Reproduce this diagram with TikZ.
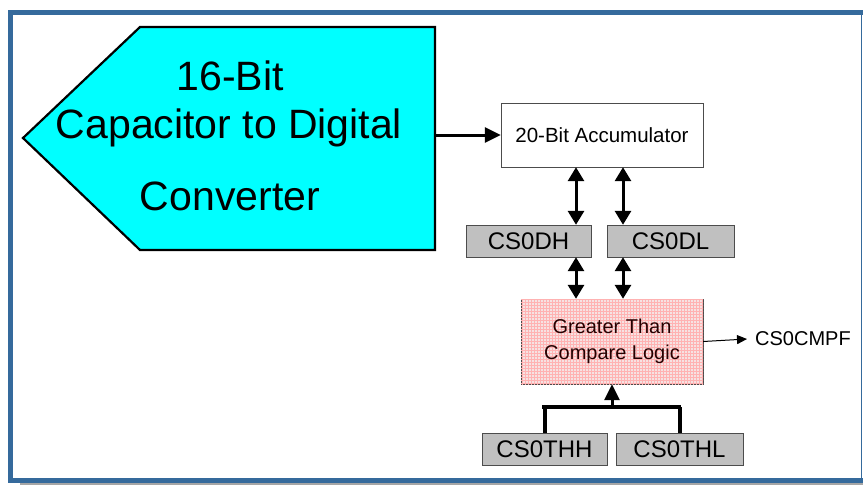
\documentclass[tikz,border=0pt]{standalone}
\usepackage{fontspec}
\setmainfont{Liberation Sans}
\usetikzlibrary{arrows.meta,patterns}

\definecolor{framblue}{HTML}{356A9C}
\definecolor{adccyan}{HTML}{00FFFF}
\definecolor{regray}{HTML}{C0C0C0}
\definecolor{logicpink}{HTML}{F6E2E2}

\begin{document}
\begin{tikzpicture}[x=1pt,y=-1pt,
	regbox/.style={draw=black!70, fill=regray, minimum height=32pt, inner sep=0pt, font=\fontsize{24}{28}\selectfont},
	dblarrow/.style={line width=3pt, {Triangle[length=14pt,width=16pt]}-{Triangle[length=14pt,width=16pt]}},
	busline/.style={line width=4pt}]
	\useasboundingbox (0,0) rectangle (863,485);

	% frame
	\draw[gray!70, line width=3pt] (20,483.5) -- (863,483.5);
	\draw[framblue, line width=5pt] (863,12) -- (10,12) -- (10,480) -- (863,480);
	\draw[framblue, line width=1pt] (861,12) -- (861,480);

	% converter
	\draw[fill=adccyan, line width=2.2pt] (140,27) -- (435,27) -- (435,250) -- (140,250) -- (23,138) -- cycle;
	\node[anchor=base, font=\fontsize{41}{48}\selectfont] (adc1) at (230,90) {16-Bit};
	\node[anchor=base, font=\fontsize{41}{48}\selectfont] (adc2) at (229,138) {Capacitor to Digital};
	\node[anchor=base, font=\fontsize{41}{48}\selectfont] (adc3) at (230,210) {Converter};
	\coordinate (adcout) at (435,135);

	% accumulator and data registers
	\node[draw=black!70, fill=white, minimum width=202pt, minimum height=64pt, inner sep=0pt, font=\fontsize{20.5}{24}\selectfont] (acc) at (602,135) {20-Bit Accumulator};
	\node[regbox, minimum width=125pt] (dh) at (528.5,241) {CS0DH};
	\node[regbox, minimum width=127pt] (dl) at (670.5,241) {CS0DL};

	% compare logic
	\node[draw=black!70, fill=logicpink, minimum width=182pt, minimum height=85pt, inner sep=0pt,
		postaction={pattern=grid, pattern color=red!30},
		align=center, text=black!85!red, font=\fontsize{20}{26}\selectfont] (cmp) at (612,341.5) {Greater Than\\Compare Logic};
	\node[anchor=west, inner sep=0pt, font=\fontsize{20}{24}\selectfont] (cmpf) at (755,339) {CS0CMPF};

	% threshold registers
	\node[regbox, minimum width=125pt] (thh) at (544.5,449) {CS0THH};
	\node[regbox, minimum width=127pt] (thl) at (679.5,449) {CS0THL};
	\coordinate (busl) at (542,407);
	\coordinate (busr) at (681,407);

	% connections
	\draw[line width=3pt, -{Triangle[length=16pt,width=15pt]}] (adcout) -- (acc.west);
	\draw[dblarrow] ([xshift=-26pt]acc.south) -- ([xshift=47.5pt]dh.north);
	\draw[dblarrow] ([xshift=21pt]acc.south) -- ([xshift=-47.5pt]dl.north);
	\draw[dblarrow] ([xshift=47.5pt]dh.south) -- ([xshift=-36pt]cmp.north);
	\draw[dblarrow] ([xshift=-47.5pt]dl.south) -- ([xshift=11pt]cmp.north);
	\draw[line width=1pt, -{Triangle[length=10pt,width=9pt]}] (cmp.east) -- ([xshift=-8pt]cmpf.west);
	\draw[busline] (busl) -- (busr);
	\draw[busline] (thh.north) -- (thh.north |- busl);
	\draw[busline] (thl.north) -- (thl.north |- busr);
	\draw[line width=3pt, -{Triangle[length=16pt,width=15pt]}] (cmp.south |- busl) -- (cmp.south);
\end{tikzpicture}
\end{document}
